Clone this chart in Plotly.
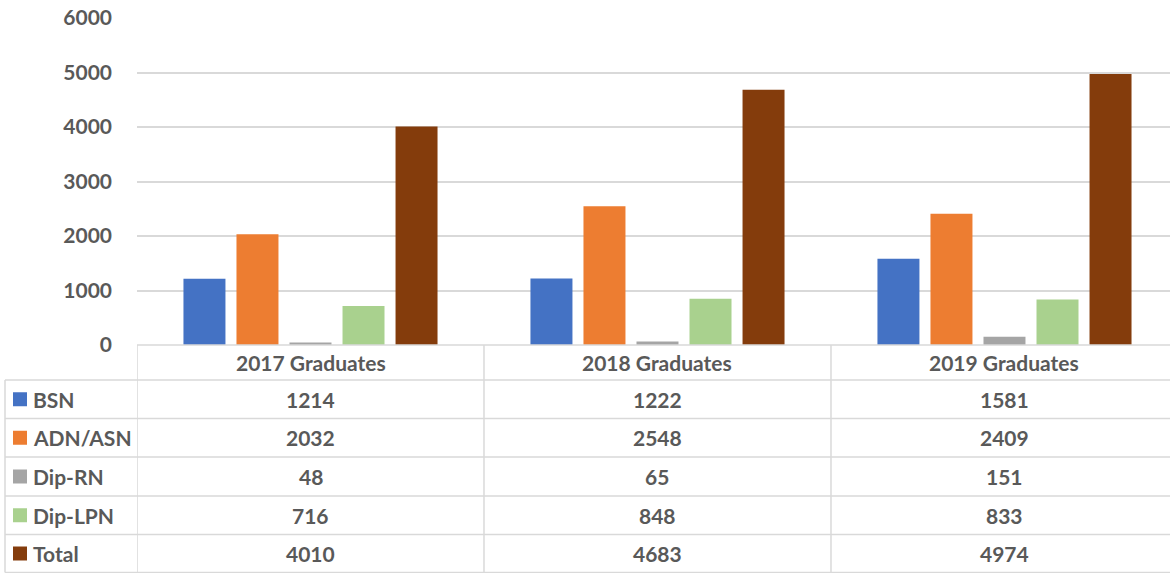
import plotly.graph_objects as go

categories = ["2017 Graduates", "2018 Graduates", "2019 Graduates"]
series_names = ["BSN", "ADN/ASN", "Dip-RN", "Dip-LPN", "Total"]
bsn = [1214, 1222, 1581]
adn = [2032, 2548, 2409]
dip_rn = [48, 65, 151]
dip_lpn = [716, 848, 833]
total = [4010, 4683, 4974]
colors = ["#4472C4", "#ED7D31", "#A5A5A5", "#A9D18E", "#843C0C"]
y_ticks = [0, 1000, 2000, 3000, 4000, 5000, 6000]

series_values = [bsn, adn, dip_rn, dip_lpn, total]

W, H = 1170, 573
FONT = "Lato"
TXT = "#595959"
GRID = "#D9D9D9"
FS = 21

def py(p):
    return 1 - p / H

def px(p):
    return p / W

fig = go.Figure()
for name, vals, col in zip(series_names, series_values, colors):
    fig.add_trace(go.Bar(x=categories, y=vals, name=name,
                         marker=dict(color=col, line=dict(width=0))))

plot_left, plot_top, plot_bottom = 137, 18, 345
row_lines = [380, 418.5, 457, 496, 534.5, 572.5]

fig.update_layout(
    width=W, height=H,
    margin=dict(l=0, r=0, t=0, b=0, autoexpand=False),
    paper_bgcolor="white", plot_bgcolor="white",
    showlegend=False,
    barmode="group", bargap=0.236, bargroupgap=0.208,
    xaxis=dict(domain=[px(plot_left), 1], showticklabels=False, ticks="",
               showgrid=False, zeroline=False, showline=False,
               range=[-0.5, 2.477], automargin=False),
    yaxis=dict(domain=[py(plot_bottom), py(plot_top)], range=[0, 6000],
               tickvals=y_ticks, showgrid=True, gridcolor=GRID, gridwidth=1.5,
               zeroline=False, showline=False, ticks="", automargin=False,
               ticklabelstandoff=24,
               tickfont=dict(family=FONT, size=FS, color=TXT, weight="bold")),
    font=dict(family=FONT, color=TXT),
)

shapes = []
line = dict(color=GRID, width=1.5)
shapes.append(dict(type="line", xref="paper", yref="paper", x0=px(plot_left), x1=1,
                   y0=py(plot_bottom), y1=py(plot_bottom), line=line, layer="above"))
for r in row_lines:
    shapes.append(dict(type="line", xref="paper", yref="paper", x0=px(5), x1=1,
                       y0=py(r), y1=py(r), line=line))
shapes.append(dict(type="line", xref="paper", yref="paper", x0=px(5), x1=px(5),
                   y0=py(row_lines[0]), y1=py(row_lines[-1]), line=line))
for b in [-0.5, 0.5, 1.5]:
    shapes.append(dict(type="line", xref="x", yref="paper", x0=b, x1=b,
                       y0=py(plot_bottom), y1=py(row_lines[-1]), line=line))
for i, col in enumerate(colors):
    yc = (row_lines[i] + row_lines[i + 1]) / 2
    shapes.append(dict(type="rect", xref="paper", yref="paper",
                       x0=px(13), x1=px(27), y0=py(yc + 7), y1=py(yc - 7),
                       fillcolor=col, line=dict(width=0)))
fig.update_layout(shapes=shapes)

ann = []
bold = dict(family=FONT, size=FS, color=TXT, weight="bold")
for c in categories:
    ann.append(dict(x=c, y=py((plot_bottom + row_lines[0]) / 2), xref="x", yref="paper",
                    text=c, showarrow=False, font=bold, xanchor="center", yanchor="middle"))
for i, (name, vals) in enumerate(zip(series_names, series_values)):
    yc = (row_lines[i] + row_lines[i + 1]) / 2
    ann.append(dict(x=px(31), y=py(yc), xref="paper", yref="paper", text=name,
                    showarrow=False, font=bold, xanchor="left", yanchor="middle"))
    for c, v in zip(categories, vals):
        ann.append(dict(x=c, y=py(yc), xref="x", yref="paper", text=str(v),
                        showarrow=False, font=bold, xanchor="center", yanchor="middle"))
fig.update_layout(annotations=ann)

fig.write_html("out.html", config={"displayModeBar": False},
               post_script="document.body.style.margin='0';"
                           "document.body.style.overflow='hidden';")
